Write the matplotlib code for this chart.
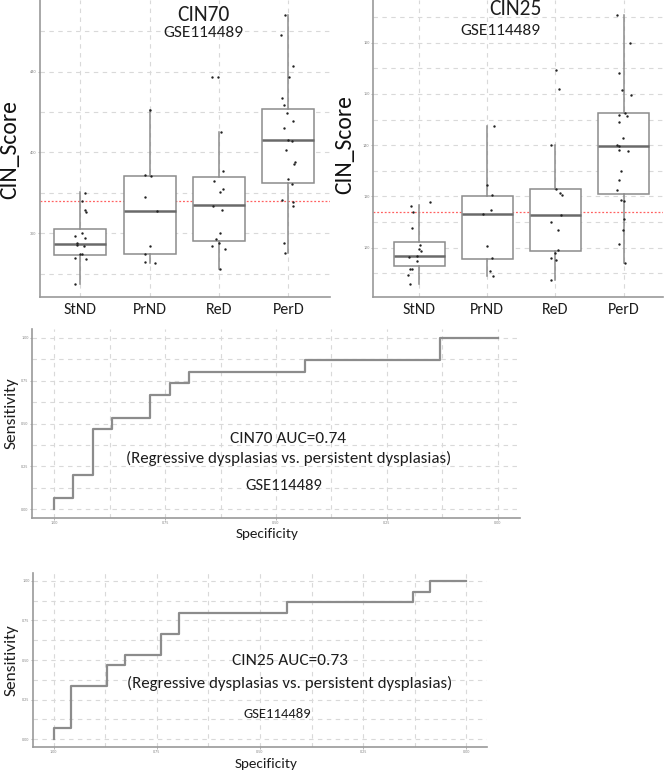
import numpy as np
import matplotlib
matplotlib.use("Agg")
import matplotlib.pyplot as plt
from matplotlib.ticker import MultipleLocator

plt.rcParams['font.family'] = ['Carlito', 'Lato', 'DejaVu Sans']

groups = ["StND", "PrND", "ReD", "PerD"]

# CIN70 scores (points) and jitter offsets
cin70_pts = [
    [379.7, 375.9, 371.7, 370.4, 360.2, 358.5, 357.5, 354.9, 354.0, 353.6, 349.9, 349.6, 347.9, 347.4, 334.7],
    [421.0, 388.8, 388.3, 378.0, 371.1, 353.7, 349.9, 345.6, 345.0],
    [437.5, 437.5, 410.2, 390.6, 385.8, 382.1, 380.5, 373.6, 371.4, 360.2, 357.2, 354.9, 353.7, 352.4, 342.5],
    [468.1, 458.2, 443.0, 437.2, 427.1, 423.5, 419.7, 415.7, 411.9, 406.1, 405.8, 401.2, 395.1, 394.4,
     386.6, 384.5, 376.4, 375.5, 373.6, 354.9, 350.2],
]
cin70_jit = [
    [0.07, 0.03, 0.07, 0.09, 0.02, -0.08, 0.07, -0.04, -0.05, 0.06, 0.03, 0.0, -0.07, 0.08, -0.07],
    [0.01, -0.06, 0.02, -0.06, 0.10, 0.01, -0.07, -0.06, 0.08],
    [-0.10, -0.02, 0.03, 0.06, -0.07, 0.06, 0.01, -0.09, 0.04, 0.01, -0.05, 0.0, -0.10, 0.09, 0.01],
    [-0.05, -0.10, 0.07, 0.01, -0.09, -0.07, -0.02, 0.07, -0.06, 0.0, 0.05, -0.04, 0.09, 0.08,
     0.0, 0.05, -0.09, 0.07, 0.06, -0.06, -0.05],
]
# box stats: whislo, q1, med, q3, whishi
cin70_box = [
    [335.0, 349.1, 354.5, 362.3, 380.5],
    [345.0, 349.9, 371.1, 388.4, 421.0],
    [342.5, 355.9, 373.9, 387.9, 410.2],
    [350.2, 385.1, 406.1, 421.5, 468.1],
]
cin70_cut = 375.7

cin25_pts = [
    [128.9, 128.1, 126.9, 123.8, 120.5, 119.8, 119.3, 118.4, 118.2, 117.4, 115.8, 115.8, 114.7, 112.9],
    [143.7, 132.3, 130.2, 127.3, 126.6, 120.3, 118.0, 115.4, 114.4],
    [154.7, 151.0, 140.1, 131.5, 130.7, 130.3, 126.3, 125.1, 123.4, 119.5, 119.0, 118.0, 117.7, 113.7],
    [165.4, 159.9, 154.0, 150.7, 149.8, 146.3, 145.9, 145.7, 144.6, 141.3, 140.1, 139.9, 139.0, 138.8,
     134.9, 133.2, 131.2, 129.3, 129.1, 125.6, 123.4, 120.7, 117.1],
]
cin25_jit = [
    [0.15, -0.12, -0.09, -0.10, 0.01, -0.01, 0.02, -0.04, -0.15, -0.04, -0.14, -0.10, -0.17, -0.13],
    [0.10, 0.0, 0.07, 0.06, -0.06, -0.01, 0.07, 0.04, 0.08],
    [0.01, 0.05, -0.07, 0.01, 0.07, 0.09, 0.08, -0.06, 0.04, 0.04, -0.01, -0.06, 0.01, -0.07],
    [-0.09, 0.09, -0.06, -0.02, 0.11, 0.02, -0.06, 0.05, -0.07, -0.01, -0.09, -0.06, -0.06, 0.06,
     -0.03, -0.06, -0.09, -0.04, 0.0, 0.01, -0.01, -0.06, 0.02],
]
cin25_box = [
    [113.0, 116.4, 118.4, 121.2, 128.3],
    [114.5, 117.9, 126.6, 130.0, 143.7],
    [113.7, 119.3, 126.3, 131.5, 140.1],
    [117.1, 130.4, 139.9, 146.2, 165.4],
]
cin25_cut = 126.9

# ROC curves (corner points)
roc70_spec = [1.0, 1.0, 0.957, 0.957, 0.913, 0.913, 0.870, 0.870, 0.783, 0.783, 0.739, 0.739,
              0.696, 0.696, 0.435, 0.435, 0.130, 0.130, 0.0]
roc70_sens = [0.0, 0.067, 0.067, 0.2, 0.2, 0.467, 0.467, 0.533, 0.533, 0.667, 0.667, 0.733,
              0.733, 0.8, 0.8, 0.867, 0.867, 1.0, 1.0]
roc25_spec = [1.0, 1.0, 0.957, 0.957, 0.870, 0.870, 0.826, 0.826, 0.739, 0.739, 0.696, 0.696,
              0.435, 0.435, 0.130, 0.130, 0.087, 0.087, 0.0]
roc25_sens = [0.0, 0.067, 0.067, 0.333, 0.333, 0.467, 0.467, 0.533, 0.533, 0.667, 0.667, 0.8,
              0.8, 0.867, 0.867, 0.933, 0.933, 1.0, 1.0]

W, H = 671, 774
fig = plt.figure(figsize=(W / 100, H / 100), dpi=100)


def rect(l, t, r, b):
    return [l / W, 1 - b / H, (r - l) / W, (b - t) / H]


def px(x, y):
    return x / W, 1 - y / H


LINE = "#8c8c8c"
GRID = "#d9d9d9"
TXT = "#1e1e1e"


def style(ax):
    for s in ["top", "right"]:
        ax.spines[s].set_visible(False)
    for s in ["left", "bottom"]:
        ax.spines[s].set_color("#9a9a9a")
        ax.spines[s].set_linewidth(1.2)
    ax.grid(True, which="both", color=GRID, linestyle=(0, (4, 4)), linewidth=0.8)
    ax.set_axisbelow(True)
    ax.tick_params(which="both", length=1.5, width=0.5, color="#9a9a9a", labelsize=3,
                   labelcolor="#888888", pad=1)
    ax.tick_params(which="minor", length=0)


def boxpanel(ax, pts, jit, box, cut, ylim, major, xlim):
    stats = []
    for g, b in zip(groups, box):
        stats.append(dict(label=g, whislo=b[0], q1=b[1], med=b[2], q3=b[3], whishi=b[4]))
    ax.bxp(stats, positions=range(1, 5), widths=0.75, showcaps=False, showfliers=False,
           patch_artist=True,
           boxprops=dict(facecolor="white", edgecolor=LINE, linewidth=1.1),
           whiskerprops=dict(color=LINE, linewidth=1.1),
           medianprops=dict(color="#6a6a6a", linewidth=1.8), zorder=2)
    for i, (p, j) in enumerate(zip(pts, jit)):
        ax.scatter(np.array(j) + i + 1, p, s=3, color="#222222", zorder=3, linewidths=0)
    ax.axhline(cut, color="#ff6060", linestyle=(0, (1.5, 1.5)), linewidth=0.9, zorder=1.5)
    ax.set_xlim(*xlim)
    ax.set_ylim(*ylim)
    style(ax)
    ax.yaxis.set_major_locator(MultipleLocator(major))
    ax.yaxis.set_minor_locator(MultipleLocator(major / 2))
    ax.set_xticks(range(1, 5))
    ax.set_xticklabels(groups)
    ax.tick_params(axis="x", labelsize=11.5, labelcolor=TXT, length=0, pad=4)


ax1 = fig.add_axes(rect(40, 0, 330, 297))
boxpanel(ax1, cin70_pts, cin70_jit, cin70_box, cin70_cut, (328.4, 475.5), 40, (0.42, 4.6))
fig.text(*px(203, 21), "CIN70", fontsize=15.5, ha="center", va="baseline", color=TXT)
fig.text(*px(203, 37), "GSE114489", fontsize=12.5, ha="center", va="baseline", color=TXT)
fig.text(*px(10, 150), "CIN_Score", fontsize=17, rotation=90, ha="center", va="center",
         color="#111111")

ax2 = fig.add_axes(rect(373, 0, 663, 297))
boxpanel(ax2, cin25_pts, cin25_jit, cin25_box, cin25_cut, (110.4, 168.3), 10, (0.32, 4.58))
fig.text(*px(515, 15), "CIN25", fontsize=15.5, ha="center", va="baseline", color=TXT)
fig.text(*px(500, 35), "GSE114489", fontsize=12.5, ha="center", va="baseline", color=TXT)
fig.text(*px(345, 145), "CIN_Score", fontsize=17, rotation=90, ha="center", va="center",
         color="#111111")


def rocpanel(ax, spec, sens):
    ax.plot(spec, sens, color=LINE, linewidth=1.6, zorder=2)
    ax.set_xlim(1.05, -0.05)
    ax.set_ylim(-0.05, 1.05)
    style(ax)
    ax.xaxis.set_major_locator(MultipleLocator(0.25))
    ax.xaxis.set_minor_locator(MultipleLocator(0.125))
    ax.yaxis.set_major_locator(MultipleLocator(0.25))
    ax.yaxis.set_minor_locator(MultipleLocator(0.125))
    ax.xaxis.set_major_formatter(lambda v, p: f"{v:.2f}")
    ax.yaxis.set_major_formatter(lambda v, p: f"{v:.2f}")


ax3 = fig.add_axes(rect(32, 329, 520, 518))
rocpanel(ax3, roc70_spec, roc70_sens)
fig.text(*px(288, 443), "CIN70 AUC=0.74", fontsize=12.5, ha="center", va="baseline", color=TXT)
fig.text(*px(289, 463), "(Regressive dysplasias vs. persistent dysplasias)", fontsize=12.2,
         ha="center", va="baseline", color=TXT)
fig.text(*px(284, 490), "GSE114489", fontsize=12, ha="center", va="baseline", color=TXT)
fig.text(*px(12, 413), "Sensitivity", fontsize=12.5, rotation=90, ha="center", va="center",
         color=TXT)
fig.text(*px(267, 538), "Specificity", fontsize=11, ha="center", va="baseline", color=TXT)

ax4 = fig.add_axes(rect(33, 573, 487, 747))
rocpanel(ax4, roc25_spec, roc25_sens)
fig.text(*px(290, 665), "CIN25 AUC=0.73", fontsize=12.5, ha="center", va="baseline", color=TXT)
fig.text(*px(290, 688), "(Regressive dysplasias vs. persistent dysplasias)", fontsize=12.2,
         ha="center", va="baseline", color=TXT)
fig.text(*px(277, 718), "GSE114489", fontsize=10.5, ha="center", va="baseline", color=TXT)
fig.text(*px(12, 660), "Sensitivity", fontsize=12.5, rotation=90, ha="center", va="center",
         color=TXT)
fig.text(*px(266, 768), "Specificity", fontsize=11, ha="center", va="baseline", color=TXT)

fig.savefig("out.png", dpi=100, facecolor="white")
